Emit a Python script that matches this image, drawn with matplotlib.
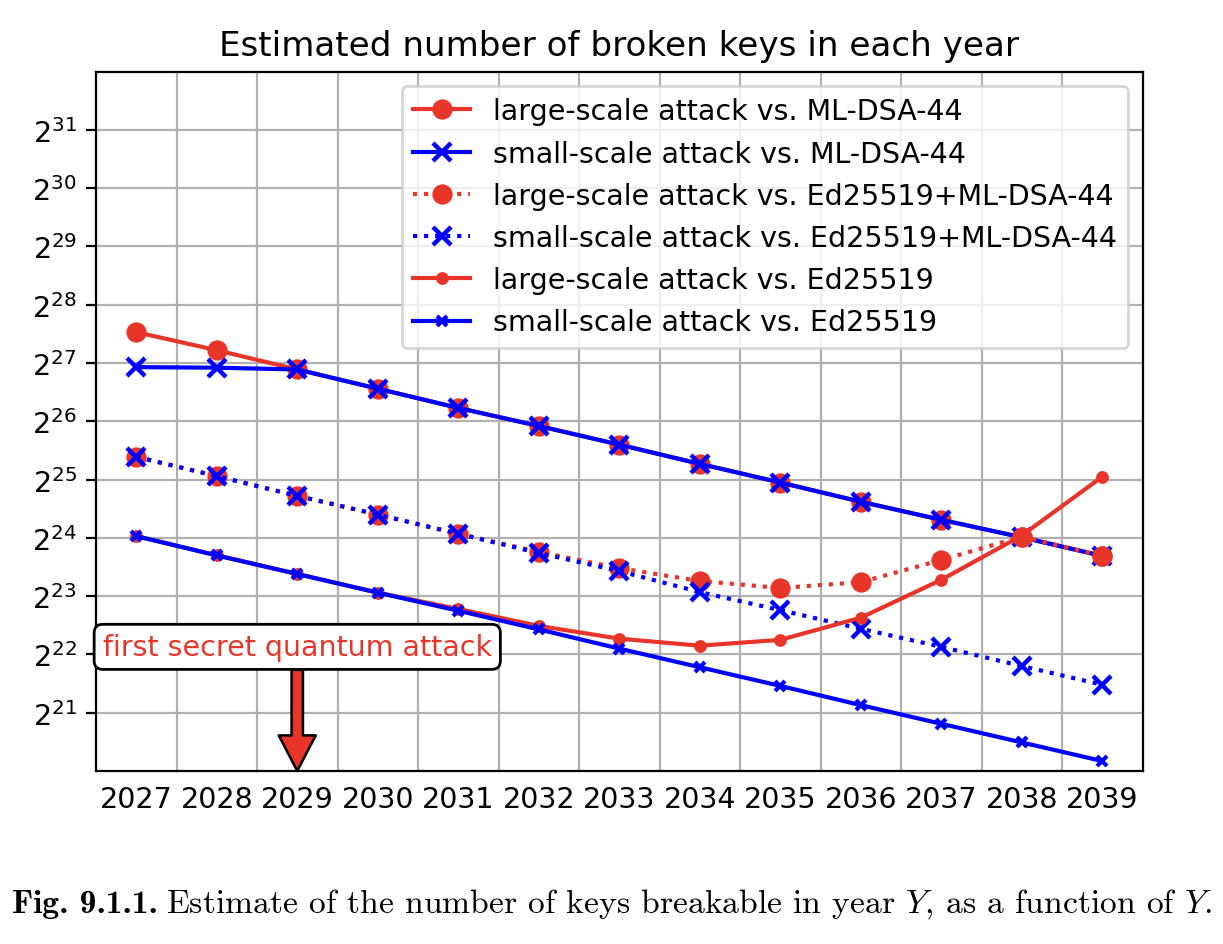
import matplotlib
matplotlib.use("Agg")
import matplotlib.pyplot as plt
from matplotlib.ticker import NullLocator
import numpy as np

# years on the x axis
years = list(range(2027, 2040))

# values are log2(number of broken keys)
large_mldsa = [27.53, 27.22, 26.89, 26.56, 26.23, 25.92, 25.60, 25.27, 24.95, 24.62, 24.31, 24.01, 23.69]
small_mldsa = [26.93, 26.92, 26.89, 26.56, 26.23, 25.92, 25.60, 25.27, 24.95, 24.62, 24.31, 24.01, 23.69]
large_hybrid = [25.39, 25.06, 24.72, 24.40, 24.07, 23.76, 23.48, 23.26, 23.14, 23.24, 23.62, 24.02, 23.69]
small_hybrid = [25.39, 25.06, 24.72, 24.40, 24.07, 23.74, 23.43, 23.07, 22.76, 22.44, 22.13, 21.80, 21.48]
large_ed = [24.03, 23.70, 23.38, 23.06, 22.78, 22.49, 22.27, 22.15, 22.25, 22.63, 23.28, 24.04, 25.05]
small_ed = [24.03, 23.70, 23.38, 23.06, 22.75, 22.43, 22.10, 21.78, 21.46, 21.13, 20.81, 20.49, 20.17]

labels = [
    "large-scale attack vs. ML-DSA-44",
    "small-scale attack vs. ML-DSA-44",
    "large-scale attack vs. Ed25519+ML-DSA-44",
    "small-scale attack vs. Ed25519+ML-DSA-44",
    "large-scale attack vs. Ed25519",
    "small-scale attack vs. Ed25519",
]

ytick_exps = list(range(21, 32))
attack_year = 2029
attack_text = "first secret quantum attack"
caption_head = "Fig. 9.1.1."
caption_body = r"Estimate of the number of keys breakable in year $Y$, as a function of $Y$."

RED = "#e8352a"
BLUE = "#0000ff"


def pow2(vals):
    return [2.0**v for v in vals]


def main():
    plt.rcParams["font.size"] = 10.25

    fig = plt.figure(figsize=(6.115, 4.725), dpi=200)
    ax = fig.add_axes([0.0785, 0.1831, 0.8557, 0.7400])

    ax.plot(years, pow2(large_mldsa), "-", color=RED, marker="o", ms=6.3, label=labels[0])
    ax.plot(years, pow2(small_mldsa), "-", color=BLUE, marker="x", ms=6.5, mew=1.6, label=labels[1])
    ax.plot(years, pow2(large_hybrid), ":", color=RED, marker="o", ms=6.3, label=labels[2])
    ax.plot(years, pow2(small_hybrid), ":", color=BLUE, marker="x", ms=6.5, mew=1.6, label=labels[3])
    ax.plot(years, pow2(large_ed), "-", color=RED, marker="o", ms=3.6, label=labels[4])
    ax.plot(years, pow2(small_ed), "-", color=BLUE, marker="x", ms=3.6, mew=1.5, label=labels[5])

    ax.set_yscale("log", base=2)
    ax.set_ylim(2.0**20, 2.0**32)
    ax.set_yticks([2.0**e for e in ytick_exps])
    ax.yaxis.set_minor_locator(NullLocator())

    ax.set_xlim(years[0] - 0.5, years[-1] + 0.5)
    ax.set_xticks(years)
    ax.set_xticks(np.array(years[:-1]) + 0.5, minor=True)
    ax.tick_params(axis="x", which="both", length=0, pad=5)

    ax.grid(True, which="minor", axis="x")
    ax.grid(True, which="major", axis="y")
    ax.set_axisbelow(True)

    ax.set_title("Estimated number of broken keys in each year")
    ax.legend(loc="upper right")

    ax.annotate(
        attack_text,
        xy=(attack_year, 2.0**20),
        xytext=(attack_year, 2.0**22.13),
        ha="center",
        va="center",
        color=RED,
        bbox=dict(boxstyle="round", fc="white", ec="black", lw=1.0),
        arrowprops=dict(
            arrowstyle="simple,head_length=1.25,head_width=1.3,tail_width=0.4",
            fc=RED,
            ec="black",
            lw=0.9,
            shrinkA=0,
            shrinkB=0,
        ),
        zorder=6,
    )

    # caption: bold head, then the regular body right after it
    cap_y = 0.034
    head = fig.text(12 / 1223, cap_y, caption_head, fontfamily="cmb10",
                    fontsize=12.1, va="baseline", ha="left")
    fig.canvas.draw()
    bb = head.get_window_extent()
    x_body = (bb.x1 + 8) / fig.bbox.width
    fig.text(x_body, cap_y, caption_body, fontfamily="cmr10", math_fontfamily="cm",
             fontsize=12.1, va="baseline", ha="left")

    fig.savefig("out.png", dpi=200)


if __name__ == "__main__":
    main()
